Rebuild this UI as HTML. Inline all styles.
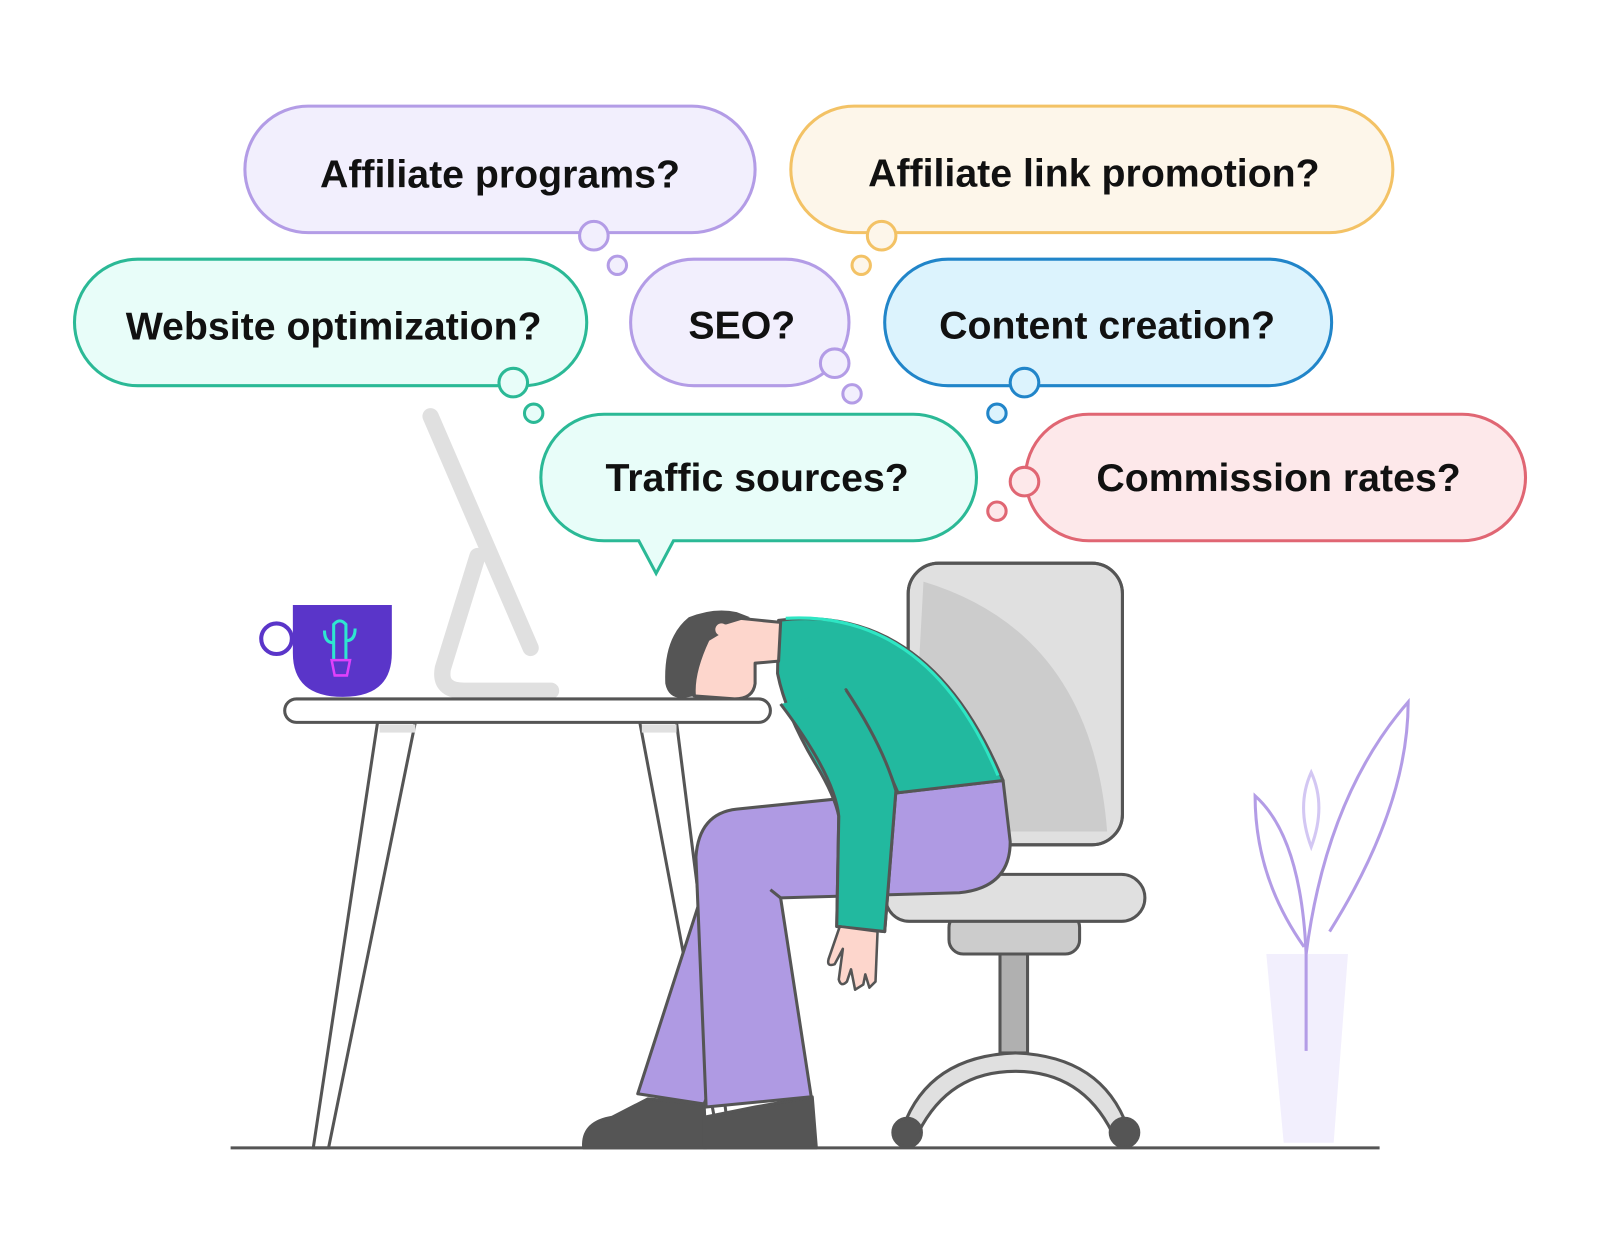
<!DOCTYPE html>
<html><head><meta charset="utf-8"><style>
html,body{margin:0;padding:0;background:#fff;}
svg{display:block}
text{font-family:"Liberation Sans",sans-serif;font-weight:bold;font-size:38.5px;fill:#111;text-anchor:middle}
</style></head><body>
<svg width="1600" height="1256" viewBox="0 0 1568 1231" preserveAspectRatio="none" xmlns="http://www.w3.org/2000/svg">
<g stroke-width="3">
<rect x="240" y="104" width="500" height="124" rx="62" fill="#f2effd" stroke="#b39ce6"/>
<circle cx="582" cy="231" r="14" fill="#f2effd" stroke="#b39ce6"/>
<circle cx="605" cy="260" r="9" fill="#f2effd" stroke="#b39ce6"/>
<text x="490" y="184">Affiliate programs?</text>
<rect x="775" y="104" width="590" height="124" rx="62" fill="#fdf6ea" stroke="#f3c265"/>
<circle cx="864" cy="231" r="14" fill="#fdf6ea" stroke="#f3c265"/>
<circle cx="844" cy="260" r="9" fill="#fdf6ea" stroke="#f3c265"/>
<text x="1072" y="183">Affiliate link promotion?</text>
<rect x="73" y="254" width="502" height="124" rx="62" fill="#e8fdf9" stroke="#2bb996"/>
<circle cx="503" cy="375" r="14" fill="#e8fdf9" stroke="#2bb996"/>
<circle cx="523" cy="405" r="9" fill="#e8fdf9" stroke="#2bb996"/>
<text x="327" y="333">Website optimization?</text>
<rect x="618" y="254" width="214" height="124" rx="62" fill="#f2effd" stroke="#b39ce6"/>
<circle cx="818" cy="356" r="14" fill="#f2effd" stroke="#b39ce6"/>
<circle cx="835" cy="386" r="9" fill="#f2effd" stroke="#b39ce6"/>
<text x="727" y="332">SEO?</text>
<rect x="867" y="254" width="438" height="124" rx="62" fill="#dcf3fd" stroke="#2185c9"/>
<circle cx="1004" cy="375" r="14" fill="#dcf3fd" stroke="#2185c9"/>
<circle cx="977" cy="405" r="9" fill="#dcf3fd" stroke="#2185c9"/>
<text x="1085" y="332">Content creation?</text>
<path d="M592,406 H895 A62,62 0 0 1 895,530 H660 L643,562 L626,530 H592 A62,62 0 0 1 592,406 Z" fill="#e8fdf9" stroke="#2bb996"/>
<text x="742" y="481">Traffic sources?</text>
<rect x="1005" y="406" width="490" height="124" rx="62" fill="#fde8ea" stroke="#e06673"/>
<circle cx="1004" cy="472" r="14" fill="#fde8ea" stroke="#e06673"/>
<circle cx="977" cy="501" r="9" fill="#fde8ea" stroke="#e06673"/>
<text x="1253" y="481">Commission rates?</text>
</g>

<g stroke="#e0e0e0" stroke-width="16" fill="none" stroke-linecap="round" stroke-linejoin="round">
<line x1="422" y1="408" x2="520" y2="635"/>
<path d="M468,545 L434,655 Q430,677 455,677 L540,677"/>
</g>
<circle cx="271" cy="626" r="15" fill="#fff" stroke="#5a35c9" stroke-width="4"/>
<path d="M287,593 H384 V640 Q384,683 336,683 Q287,683 287,640 Z" fill="#5a35c9"/>
<path d="M327,647 V612 Q333,605 339,612 V647 M327,630 Q318,630 318,618 M339,628 Q348,628 348,616" stroke="#2ee6d0" stroke-width="3" fill="none"/>
<path d="M325,647 H343 L340,662 H328 Z" stroke="#e040fb" stroke-width="2.5" fill="none"/>
<g stroke="#555" stroke-width="3" fill="#fff">
<path d="M370,708 L307,1125 H322 L407,708 Z"/>
<path d="M627,708 L700,1095 L712,1095 L663,708 Z"/>
<rect x="279" y="685" width="476" height="23" rx="11.5"/>
</g>
<rect x="372" y="710" width="35" height="8" fill="#e0e0e0"/>
<rect x="629" y="710" width="34" height="8" fill="#e0e0e0"/>

<g stroke="#555" stroke-width="3">
<rect x="890" y="552" width="210" height="276" rx="30" fill="#e0e0e0"/>
<path d="M905,570 Q1070,620 1085,815 L915,815 Q893,815 893,790 Z" fill="#cccccc" stroke="none"/>
<rect x="890" y="552" width="210" height="276" rx="30" fill="none"/>
<rect x="980" y="930" width="27" height="102" fill="#b0b0b0"/>
<path d="M885,1105 Q910,1035 995,1032 Q1080,1035 1105,1105 L1090,1110 Q1060,1050 995,1050 Q930,1050 900,1110 Z" fill="#e0e0e0"/>
<circle cx="889" cy="1110" r="14" fill="#555"/>
<circle cx="1102" cy="1110" r="14" fill="#555"/>
<rect x="930" y="895" width="128" height="40" rx="14" fill="#cccccc"/>
<rect x="868" y="857" width="254" height="46" rx="23" fill="#e0e0e0"/>
</g>

<g stroke="#555" stroke-width="3" stroke-linejoin="round">
<path d="M690,870 L625,1072 L690,1082 L715,1020 Z" fill="#af9ae3"/>
<path d="M572,1125 Q570,1100 600,1095 L635,1077 L690,1082 L692,1125 Z" fill="#555"/>
<path d="M690,1095 L740,1085 L796,1075 L800,1125 L690,1125 Z" fill="#555"/>
<path d="M983,765 L990,825 Q990,870 940,875 L765,880 L795,1075 L692,1085 L682,840 Q685,797 722,793 L880,777 Z" fill="#af9ae3"/>
<line x1="765" y1="880" x2="755" y2="872"/>
<path d="M763,608 Q910,590 983,765 L880,777 Q860,730 829,676 Q845,720 878,775 L867,913 L820,908 L822,800 Q818,780 800,750 Q770,700 762,660 Z" fill="#22b99f"/>
<path d="M829,676 Q865,730 878,775 L867,913 L820,908 L822,800 Q818,760 765,690" fill="#22b99f"/>
<path d="M770,606 Q910,598 978,760" fill="none" stroke="#2ee6c4" stroke-width="3"/>
<path d="M823,908 L812,940 Q810,948 818,945 L826,930 L822,960 Q824,968 830,962 L834,950 L838,970 L846,965 L848,955 L852,968 L858,962 L860,913 Z" fill="#fdd6cc" stroke-width="2.5"/>
<path d="M715,605 L765,610 L763,648 L740,650 L740,670 Q738,685 720,685 L680,682 Q668,650 690,622 Z" fill="#fdd6cc"/>
<path d="M722,600 Q700,595 675,605 Q650,625 652,670 Q655,685 670,684 L682,682 Q680,660 695,628 L705,622 Q700,612 712,612 L735,605 Z" fill="#555" stroke="none"/>
<circle cx="707" cy="617" r="6" fill="#fdd6cc" stroke="none"/>
</g>

<line x1="226" y1="1125" x2="1352" y2="1125" stroke="#555" stroke-width="3"/>

<path d="M1241,935 H1321 L1307,1120 H1258 Z" fill="#f2effd"/>
<g stroke="#b39ce6" stroke-width="3" fill="none">
<path d="M1280,1030 V935 Q1300,780 1380,688 Q1380,790 1303,913"/>
<path d="M1278,928 Q1230,860 1230,780 Q1275,820 1280,935"/>
<path d="M1285,830 Q1270,790 1285,757 Q1300,790 1285,830 Z" stroke="#d3c7f3"/>
</g>
</svg>
</body></html>
